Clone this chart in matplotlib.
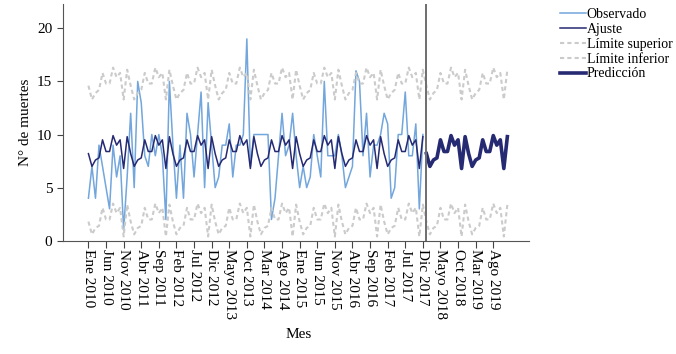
import matplotlib.pyplot as plt
import numpy as np

plt.rcParams['font.family'] = ['Liberation Serif', 'DejaVu Serif']

# meses: ene 2010 .. dic 2019 (indice 0..119)
meses_abrev = ['Ene', 'Feb', 'Mar', 'Abr', 'Mayo', 'Jun', 'Jul', 'Ago', 'Sep', 'Oct', 'Nov', 'Dic']
anios = list(range(2010, 2020))

observado = [
    4, 7, 4, 9, 7, 5, 3, 9, 6, 8, 1, 6,         # 2010
    12, 5, 15, 13, 8, 7, 10, 8, 10, 8, 2, 15,   # 2011
    9, 4, 9, 4, 12, 10, 6, 10, 14, 5, 13, 9,    # 2012
    5, 6, 9, 9, 11, 6, 9, 9, 10, 19, 7, 10,     # 2013
    10, 10, 10, 10, 2, 4, 8, 12, 8, 9, 12, 8,   # 2014
    5, 7, 5, 6, 10, 8, 6, 15, 8, 8, 8, 10,      # 2015
    8, 5, 6, 7, 16, 15, 8, 12, 6, 9, 9, 10,     # 2016
    12, 11, 4, 5, 10, 10, 14, 8, 8, 11, 3, 10,  # 2017
]

# el modelo es estacional: el mismo perfil mensual cada anio
ajuste_mes = [8.2, 7.0, 7.6, 7.8, 9.5, 8.4, 8.4, 9.9, 9.0, 9.5, 6.8, 9.8]
superior_mes = [14.6, 13.3, 13.9, 14.2, 15.8, 14.8, 14.8, 16.3, 15.4, 15.8, 13.3, 16.1]
inferior_mes = [1.8, 0.6, 1.2, 1.4, 3.1, 2.0, 2.0, 3.5, 2.6, 3.1, 0.4, 3.4]

n_obs = len(observado)
n_total = 12 * len(anios)
ajuste = ajuste_mes * (n_obs // 12)
prediccion = ajuste_mes * ((n_total - n_obs) // 12)
lim_sup = superior_mes * len(anios)
lim_inf = inferior_mes * len(anios)

etiquetas = [f'{m} {a}' for a in anios for m in meses_abrev]

fig = plt.figure(figsize=(6.76, 3.54), dpi=100)
ax = fig.add_axes([0.0928, 0.32, 0.69, 0.669])

x_obs = np.arange(n_obs)
x_pred = np.arange(n_obs, n_total)
x_all = np.arange(n_total)

ax.plot(x_obs, observado, color='#72a6dc', lw=1.1, label='Observado')
ax.plot(x_obs, ajuste, color='#262a72', lw=1.1, label='Ajuste')
ax.plot(x_all, lim_sup, color='#cbcbcb', lw=1.5, ls=(0, (2, 1.5)), label='Límite superior')
ax.plot(x_all, lim_inf, color='#cbcbcb', lw=1.5, ls=(0, (2, 1.5)), label='Límite inferior')
ax.plot(x_pred, prediccion, color='#262a72', lw=2.6, label='Predicción')
ax.axvline(n_obs, color='#6e6e6e', lw=1.4)

ax.set_xlim(-7.3, 125.2)
ax.set_ylim(0, 22.3)
ax.set_yticks([0, 5, 10, 15, 20])
ax.set_xticks(x_all[::5])
ax.set_xticklabels(etiquetas[::5], rotation=-90, fontsize=11)
ax.tick_params(axis='y', labelsize=11, length=4, color='#444444')
ax.tick_params(axis='x', length=5, color='#444444', pad=1)

for s in ['top', 'right']:
    ax.spines[s].set_visible(False)
for s in ['left', 'bottom']:
    ax.spines[s].set_color('#555555')

ax.set_xlabel('Mes', fontsize=11)
ax.set_ylabel('N° de muertes', fontsize=11)
ax.xaxis.set_label_coords(0.505, -0.37)

ax.legend(loc='upper left', bbox_to_anchor=(0.829, 0.977), bbox_transform=fig.transFigure,
          frameon=False, fontsize=10, handlelength=1.85, handletextpad=0.05,
          labelspacing=0.13, borderpad=0, borderaxespad=0)

fig.savefig('out.png', dpi=100)
